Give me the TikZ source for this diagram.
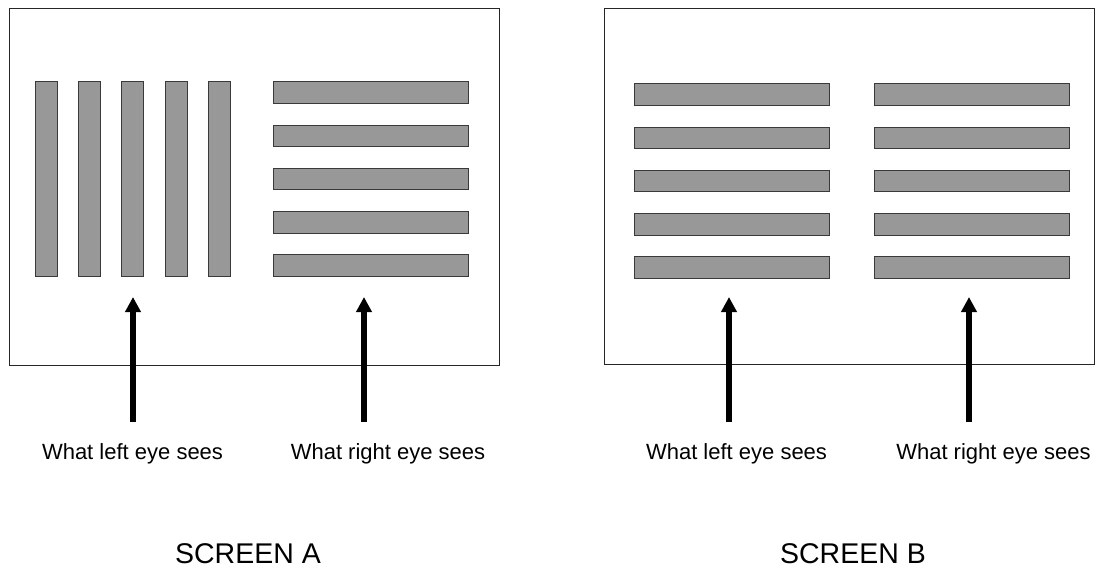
\documentclass[tikz,border=0pt]{standalone}
\usepackage{fontspec}
\setmainfont{Liberation Sans}
\usetikzlibrary{positioning, arrows.meta}
\definecolor{barfill}{RGB}{152,152,152}
\definecolor{barline}{RGB}{58,58,58}

\begin{document}
\begin{tikzpicture}[x=1pt, y=-1pt, >={Triangle[length=15pt, width=15pt]}]
\tikzset{
  scr/.style ={draw=black!85, line width=1pt, inner sep=0pt, outer sep=0pt},
  vbar/.style={draw=barline, fill=barfill, line width=1pt, inner sep=0pt, outer sep=0pt, minimum width=22pt, minimum height=195pt},
  hbar/.style={draw=barline, fill=barfill, line width=1pt, inner sep=0pt, outer sep=0pt, minimum width=195pt, minimum height=21.5pt},
  eye/.style ={font=\fontsize{22}{26}\selectfont, anchor=base, inner sep=0pt},
  ttl/.style ={font=\fontsize{28.5}{34}\selectfont, anchor=base, inner sep=0pt},
  look/.style={->, line width=5.2pt}
}
\useasboundingbox (0,0) rectangle (1097,569);

% screens
\node[scr, minimum width=489.5pt, minimum height=356.5pt] (scrA) at (254.25,186.75) {};
\node[scr, minimum width=490pt, minimum height=356pt] (scrB) at (849,186.5) {};

% screen A : left eye
\node[vbar] (vA1) at (46.5,179.5) {};
\node[vbar, right=21.2pt of vA1] (vA2) {};
\node[vbar, right=21.2pt of vA2] (vA3) {};
\node[vbar, right=21.2pt of vA3] (vA4) {};
\node[vbar, right=21.2pt of vA4] (vA5) {};

% screen A : right eye
\node[hbar] (hA1) at (370.5,92.75) {};
\node[hbar, below=21.75pt of hA1] (hA2) {};
\node[hbar, below=21.75pt of hA2] (hA3) {};
\node[hbar, below=21.75pt of hA3] (hA4) {};
\node[hbar, below=21.75pt of hA4] (hA5) {};

% screen B : left eye
\node[hbar] (hBL1) at (732,94.75) {};
\node[hbar, below=21.75pt of hBL1] (hBL2) {};
\node[hbar, below=21.75pt of hBL2] (hBL3) {};
\node[hbar, below=21.75pt of hBL3] (hBL4) {};
\node[hbar, below=21.75pt of hBL4] (hBL5) {};

% screen B : right eye
\node[hbar, right=45pt of hBL1] (hBR1) {};
\node[hbar, below=21.75pt of hBR1] (hBR2) {};
\node[hbar, below=21.75pt of hBR2] (hBR3) {};
\node[hbar, below=21.75pt of hBR3] (hBR4) {};
\node[hbar, below=21.75pt of hBR4] (hBR5) {};

% eye labels
\node[eye] (eyeAL) at (132.5,459) {What left eye sees};
\node[eye] (eyeAR) at (388,459) {What right eye sees};
\node[eye] (eyeBL) at (736.5,459) {What left eye sees};
\node[eye] (eyeBR) at (993.5,459) {What right eye sees};

% arrows
\coordinate (lookAL) at (133,422);  \coordinate (tipAL) at (133,297);
\coordinate (lookAR) at (364,422);  \coordinate (tipAR) at (364,297);
\coordinate (lookBL) at (729,422);  \coordinate (tipBL) at (729,297);
\coordinate (lookBR) at (969,422);  \coordinate (tipBR) at (969,297);

\draw[look] (lookAL) -- (tipAL);
\draw[look] (lookAR) -- (tipAR);
\draw[look] (lookBL) -- (tipBL);
\draw[look] (lookBR) -- (tipBR);

% titles
\node[ttl] (ttlA) at (248,563) {SCREEN A};
\node[ttl] (ttlB) at (853,563) {SCREEN B};

\end{tikzpicture}
\end{document}
